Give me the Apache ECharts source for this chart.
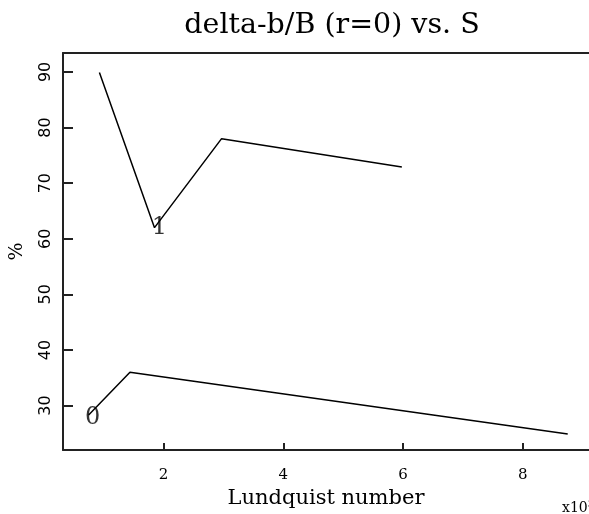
<!DOCTYPE html>
<html>
<head>
<meta charset="utf-8">
<script src="https://cdn.jsdelivr.net/npm/echarts@6/dist/echarts.min.js"></script>
<style>
  html, body { margin: 0; padding: 0; background: #fff; }
  #chart { width: 589px; height: 514px; }
</style>
</head>
<body>
<div id="chart"></div>
<script>
// Lundquist number (in units of 10^3) and delta-b/B (%) for each run
const upperS = [0.93, 1.85, 2.97, 5.98];
const upperPct = [89.9, 62.0, 78.0, 72.9];
const lowerS = [0.75, 1.44, 8.75];
const lowerPct = [28.3, 36.0, 24.9];

// curve tags drawn next to each line
const tagNames = ['1', '0'];
const tagS = [1.93, 0.817];
const tagPct = [63.6, 29.5];

// tick positions
const xTicks = [2, 4, 6, 8];
const yTicks = [30, 40, 50, 60, 70, 80, 90];

const pairs = (xs, ys) => xs.map((x, i) => [x, ys[i]]);

const chart = echarts.init(document.getElementById('chart'), null, { renderer: 'canvas' });

const serif = '"DejaVu Serif", "Liberation Serif", serif';
const axisLine = { show: true, lineStyle: { color: '#222', width: 2 } };

chart.setOption({
  animation: false,
  backgroundColor: '#fff',
  title: {
    text: 'delta-b/B (r=0) vs. S',
    left: 327,
    top: 6,
    textAlign: 'center',
    textStyle: { fontFamily: serif, fontWeight: 'normal', fontSize: 28.5, color: '#000' }
  },
  grid: { left: 62, top: 53, right: 0, bottom: 52, containLabel: false },
  xAxis: [
    {
      type: 'value',
      min: 0.322,
      max: 9.105,
      axisLine: axisLine,
      splitLine: { show: false },
      axisTick: { show: true, inside: true, length: 7, customValues: xTicks, lineStyle: { color: '#222', width: 2 } },
      axisLabel: { show: true, customValues: xTicks, margin: 18, fontFamily: serif, fontSize: 15, color: '#000' },
      name: 'Lundquist number',
      nameLocation: 'middle',
      nameGap: 36,
      nameTextStyle: { fontFamily: serif, fontSize: 21, color: '#000' }
    },
    {
      type: 'value',
      position: 'top',
      min: 0.322,
      max: 9.105,
      axisLine: axisLine,
      splitLine: { show: false },
      axisTick: { show: false },
      axisLabel: { show: false }
    }
  ],
  yAxis: {
    type: 'value',
    min: 22,
    max: 93.4,
    axisLine: axisLine,
    splitLine: { show: false },
    axisTick: { show: true, inside: true, length: 10, customValues: yTicks, lineStyle: { color: '#222', width: 2 } },
    axisLabel: { show: true, customValues: yTicks, rotate: 90, margin: 9, fontFamily: '"DejaVu Sans", sans-serif', fontSize: 16, color: '#000' },
    name: '%',
    nameLocation: 'middle',
    nameRotate: 90,
    nameGap: 36,
    nameTextStyle: { fontFamily: serif, fontSize: 19, color: '#000' }
  },
  graphic: [
    {
      type: 'text',
      left: 562,
      top: 499,
      style: {
        text: '{b|x10}{s|3}',
        rich: {
          b: { fontFamily: serif, fontSize: 14, fill: '#000' },
          s: { fontFamily: serif, fontSize: 10, fill: '#000', verticalAlign: 'top', padding: [0, 0, 8, 0] }
        }
      }
    }
  ],
  series: [
    {
      type: 'line',
      data: pairs(upperS, upperPct),
      symbol: 'none',
      lineStyle: { color: '#000', width: 1.5 },
      z: 2
    },
    {
      type: 'line',
      data: pairs(lowerS, lowerPct),
      symbol: 'none',
      lineStyle: { color: '#000', width: 1.5 },
      z: 2
    },
    {
      type: 'scatter',
      symbolSize: 0,
      data: tagNames.map((n, i) => ({ name: n, value: [tagS[i], tagPct[i]] })),
      label: {
        show: true,
        position: [0, 0],
        offset: [0, 9],
        align: 'center',
        verticalAlign: 'middle',
        formatter: p => p.name,
        fontFamily: serif,
        fontSize: 24,
        color: '#000'
      },
      z: 3
    }
  ]
});
</script>
</body>
</html>
